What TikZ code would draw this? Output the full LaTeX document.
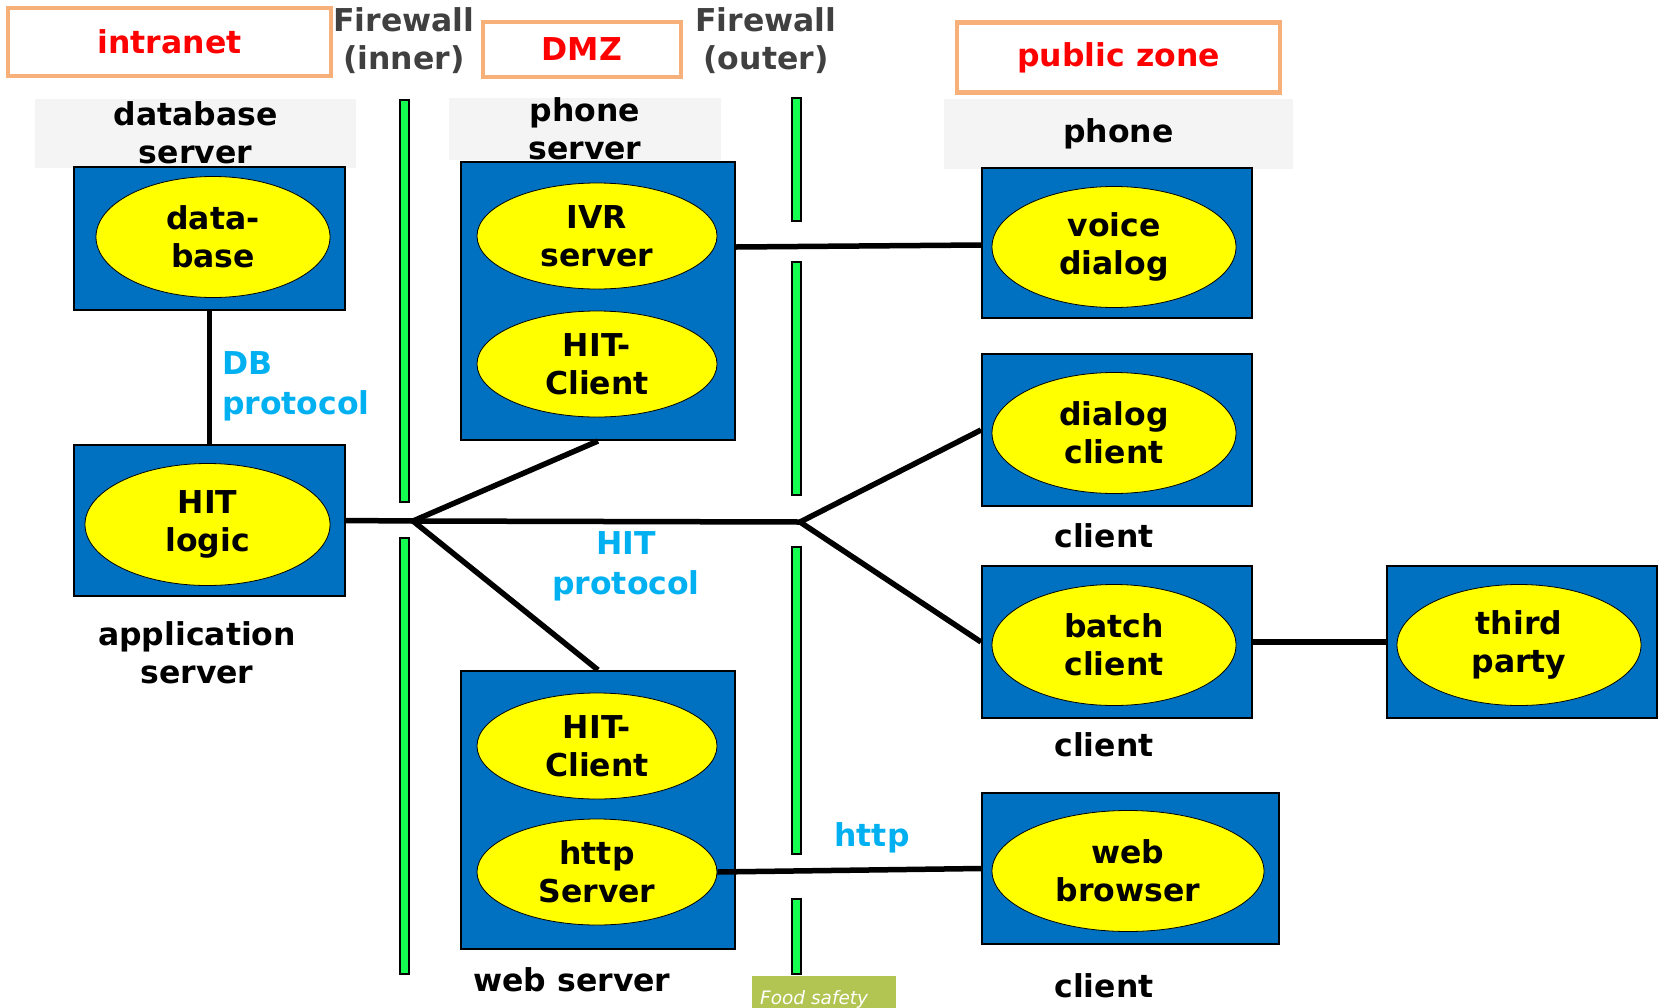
\documentclass[tikz,border=0pt]{standalone}
\usepackage{fontspec}
\setmainfont{DejaVu Sans}
\usetikzlibrary{shapes.geometric,calc}
\definecolor{boxblue}{HTML}{0070C0}
\definecolor{ellyellow}{HTML}{FFFF00}
\definecolor{zoneorange}{HTML}{F8B07A}
\definecolor{lblgray}{HTML}{F4F4F4}
\definecolor{fwgreen}{HTML}{14FF50}
\definecolor{fwtext}{HTML}{404040}
\definecolor{protoblue}{HTML}{00B0F0}
\definecolor{foodgreen}{HTML}{B2C452}
\begin{document}
\begin{tikzpicture}[x=1pt,y=-1pt,
  txt/.style={font=\bfseries\fontsize{31.5}{38}\selectfont, align=center, inner sep=0pt},
  zonebox/.style={draw=zoneorange, line width=4.5pt, fill=white, txt, text=red},
  graylbl/.style={fill=lblgray, txt},
  bluebox/.style={draw=black, line width=2pt, fill=boxblue, inner sep=0pt},
  ell/.style={ellipse, draw=black, line width=0.8pt, fill=ellyellow, txt},
  fwbar/.style={draw=black, line width=2pt, fill=fwgreen, minimum width=9pt, inner sep=0pt},
  fwlbl/.style={txt, text=fwtext},
  proto/.style={txt, text=protoblue, font=\bfseries\fontsize{31.5}{40}\selectfont},
  conn/.style={draw=black, line width=5.5pt}]
\useasboundingbox (0,0) rectangle (1663,1007);

% zone titles
\node[zonebox, minimum width=323pt, minimum height=68pt] (zintra) at (169.5,42) {intranet};
\node[zonebox, minimum width=198pt, minimum height=55pt] (zdmz) at (582,49.5) {DMZ};
\node[zonebox, minimum width=323pt, minimum height=70pt] (zpub) at (1118.5,57.5) {public zone};

% firewall labels
\node[fwlbl] (fwin) at (404,41) {Firewall\\(inner)};
\node[fwlbl] (fwout) at (766,41) {Firewall\\(outer)};

% firewall bars
\node[fwbar, minimum height=402pt] (fi1) at (404,301) {};
\node[fwbar, minimum height=436pt] (fi2) at (404,756) {};
\node[fwbar, minimum height=123pt] (fo1) at (796.5,159.5) {};
\node[fwbar, minimum height=233pt] (fo2) at (796.5,378.5) {};
\node[fwbar, minimum height=307pt] (fo3) at (796.5,700.5) {};
\node[fwbar, minimum height=75pt] (fo4) at (796.5,936.5) {};

% gray labels
\node[graylbl, minimum width=321pt, minimum height=69pt] (ldb) at (195.5,133) {database\\server};
\node[graylbl, minimum width=272pt, minimum height=61pt] (lphs) at (585,129) {phone\\server};
\node[graylbl, minimum width=349pt, minimum height=70pt] (lph) at (1118.5,134) {phone};

% blue boxes
\node[bluebox, minimum width=271pt, minimum height=143pt] (db) at (209.5,238.5) {};
\node[bluebox, minimum width=271pt, minimum height=151pt] (app) at (209.5,520.5) {};
\node[bluebox, minimum width=274pt, minimum height=278pt] (phonesrv) at (598,301) {};
\node[bluebox, minimum width=274pt, minimum height=278pt] (websrv) at (598,810) {};
\node[bluebox, minimum width=270pt, minimum height=150pt] (voice) at (1117,243) {};
\node[bluebox, minimum width=270pt, minimum height=152pt] (dialog) at (1117,430) {};
\node[bluebox, minimum width=270pt, minimum height=152pt] (batch) at (1117,642) {};
\node[bluebox, minimum width=270pt, minimum height=152pt] (third) at (1522,642) {};
\node[bluebox, minimum width=297pt, minimum height=151pt] (browser) at (1130.5,868.5) {};

% ellipses
\node[ell, minimum width=234pt, minimum height=121pt] (edb) at (213,237) {data-\\base};
\node[ell, minimum width=245pt, minimum height=122pt] (eapp) at (207.5,524.5) {HIT\\logic};
\node[ell, minimum width=240pt, minimum height=106pt] (eivr) at (597,236) {IVR\\server};
\node[ell, minimum width=240pt, minimum height=106pt] (ehc1) at (597,364) {HIT-\\Client};
\node[ell, minimum width=240pt, minimum height=106pt] (ehc2) at (597,746) {HIT-\\Client};
\node[ell, minimum width=240pt, minimum height=106pt] (ehttp) at (597,872) {http\\Server};
\node[ell, minimum width=244pt, minimum height=121pt] (evoice) at (1114,247) {voice\\dialog};
\node[ell, minimum width=244pt, minimum height=121pt] (edialog) at (1114,433) {dialog\\client};
\node[ell, minimum width=244pt, minimum height=121pt] (ebatch) at (1114,645) {batch\\client};
\node[ell, minimum width=244pt, minimum height=121pt] (ethird) at (1519,645) {third\\party};
\node[ell, minimum width=272pt, minimum height=121pt] (ebrowser) at (1128,871) {web\\browser};

% captions
\node[txt] (capapp) at (197,653) {application\\server};
\node[txt] (capweb) at (572,980) {web server};
\node[txt] (capc1) at (1104,536) {client};
\node[txt] (capc2) at (1104,745) {client};
\node[txt] (capc3) at (1104,986) {client};

% protocol labels
\node[proto, align=left, anchor=west] (pdb) at (222,386) {DB\\protocol};
\node[proto] (phit) at (626,566) {HIT\\protocol};
\node[proto] (phttp) at (872,838) {http};

% connectors
\coordinate (j1) at (413,521);
\coordinate (j2) at (800,522);
\draw[conn] (db.south) -- (app.north);
\draw[conn] (app.east) -- (j1);
\draw[conn] (j1) -- (phonesrv.south);
\draw[conn] (j1) -- (websrv.north);
\draw[conn] (j1) -- (j2);
\draw[conn] (j2) -- (dialog.west);
\draw[conn] (j2) -- (batch.west);
\draw[conn] ([yshift=-11pt]eivr.east -| phonesrv.east) -- ([yshift=-2pt]voice.west);
\draw[conn] (ehttp.east) -- (browser.west);
\draw[conn] (batch.east) -- (third.west);

% food safety tag
\node[fill=foodgreen, minimum width=144pt, minimum height=40pt, inner sep=0pt, anchor=north west] (food) at (752,976) {};
\node[anchor=base west, inner sep=0pt, text=white, font=\itshape\fontsize{18.5}{22}\selectfont] (foodtxt) at (760,1004) {Food safety};
\end{tikzpicture}
\end{document}
